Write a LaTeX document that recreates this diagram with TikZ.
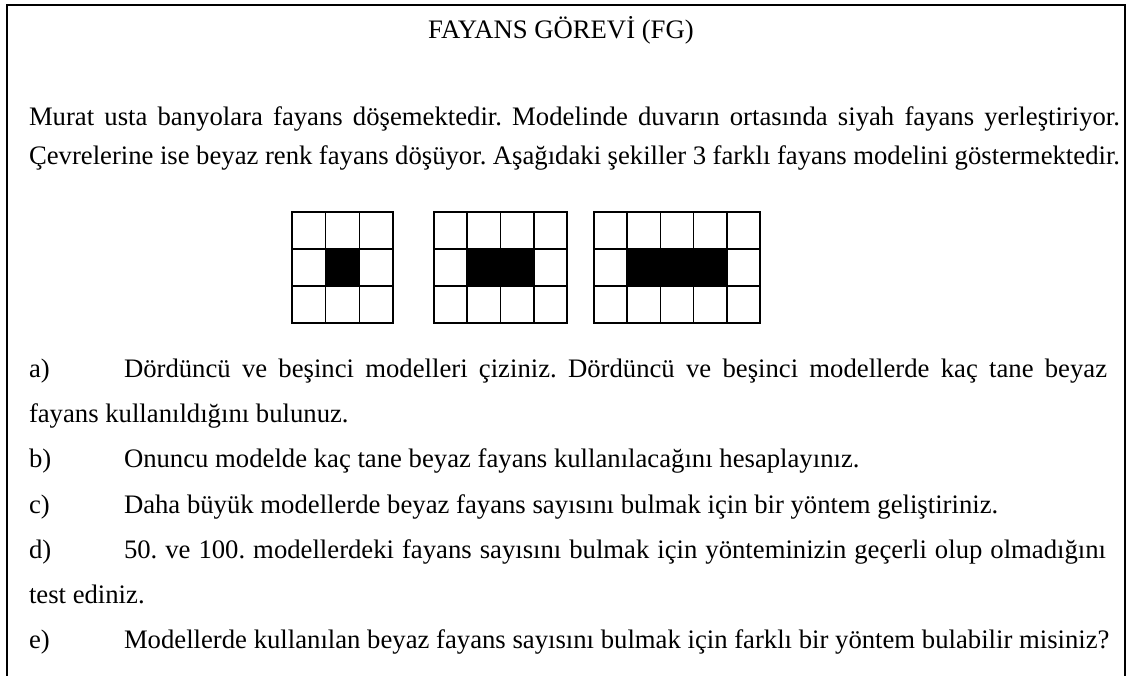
\documentclass[tikz,border=0pt]{standalone}
\usepackage{fontspec}
\setmainfont{Liberation Serif}
\begin{document}
\frenchspacing
\begin{tikzpicture}[x=1pt,y=-1pt,
  txt/.style={anchor=base west,inner sep=0pt,outer sep=0pt,font=\fontsize{26.7}{32}\selectfont},
  frame/.style={line width=2pt,draw=black},
  cell/.style={line width=1.6pt,draw=black}]
\useasboundingbox (0,0) rectangle (1132,675);
\draw[frame] (7,680) -- (7,5) -- (1125,5) -- (1125,680);
\node[txt,anchor=base] (title) at (561,38) {FAYANS GÖREVİ (FG)};
\node[txt] (p1) at (29,125) {\makebox[1091pt][s]{Murat usta banyolara fayans döşemektedir. Modelinde duvarın ortasında siyah fayans yerleştiriyor.}};
\node[txt] (p2) at (29,164) {\makebox[1091pt][s]{Çevrelerine ise beyaz renk fayans döşüyor. Aşağıdaki şekiller 3 farklı fayans modelini göstermektedir.}};
% grids
\foreach \x/\n/\w in {292/3/33.67,434/4/33.25,594/5/33.2}{
  \pgfmathsetmacro\m{\n-1}
  \fill[black] (\x+\w,249) rectangle (\x+\m*\w,286);
  \foreach \i in {1,...,\n}{
    \foreach \j in {0,1,2}{
      \draw[cell] (\x+\i*\w-\w,212+\j*37) rectangle (\x+\i*\w,249+\j*37);
    }
  }
}
\node[txt] (la) at (29,377) {a)};
\node[txt] (ta) at (124,377) {\makebox[983pt][s]{Dördüncü ve beşinci modelleri çiziniz. Dördüncü ve beşinci modellerde kaç tane beyaz}};
\node[txt] (ta2) at (29,422) {fayans kullanıldığını bulunuz.};
\node[txt] (lb) at (29,467.5) {b)};
\node[txt] (tb) at (124,467.5) {Onuncu modelde kaç tane beyaz fayans kullanılacağını hesaplayınız.};
\node[txt] (lc) at (29,513) {c)};
\node[txt] (tc) at (124,513) {Daha büyük modellerde beyaz fayans sayısını bulmak için bir yöntem geliştiriniz.};
\node[txt] (ld) at (29,558) {d)};
\node[txt] (td) at (124,558) {\makebox[982pt][s]{50. ve 100. modellerdeki fayans sayısını bulmak için yönteminizin geçerli olup olmadığını}};
\node[txt] (td2) at (29,603) {test ediniz.};
\node[txt] (le) at (29,648) {e)};
\node[txt] (te) at (124,648) {Modellerde kullanılan beyaz fayans sayısını bulmak için farklı bir yöntem bulabilir misiniz?};
\end{tikzpicture}
\end{document}
